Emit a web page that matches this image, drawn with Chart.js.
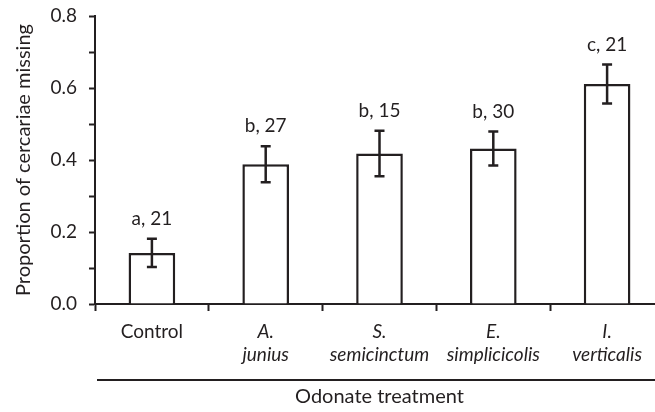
<!DOCTYPE html>
<html>
<head>
<meta charset="utf-8">
<script src="https://cdn.jsdelivr.net/npm/chart.js@4"></script>
<style>
  html, body { margin: 0; padding: 0; background: #fff; overflow: hidden; }
  #wrap { width: 655px; height: 412px; overflow: hidden; }
  #wrap canvas { display: block; }
</style>
</head>
<body>
<div id="wrap"><canvas id="bars" width="664" height="412"></canvas></div>
<script>
var treatments = [['Control'], ['A.', 'junius'], ['S.', 'semicinctum'], ['E.', 'simplicicolis'], ['I.', 'verticalis']];
var means = [0.142, 0.388, 0.418, 0.432, 0.611];
var stdErr = [0.039, 0.050, 0.063, 0.047, 0.054];
var letters = ['a', 'b', 'b', 'b', 'c'];
var sampleSizes = [21, 27, 15, 30, 21];
var yTicks = [0.0, 0.2, 0.4, 0.6, 0.8];

const INK = '#231f20';
const FONT = 'Lato';
const FSIZE = 19;

// error bars, letters + n above them, and the line over the axis title
const errorBars = {
    id: 'errorBars',
    afterDatasetsDraw(chart) {
        const ctx = chart.ctx;
        const y = chart.scales.y;
        const meta = chart.getDatasetMeta(0);
        ctx.save();
        ctx.strokeStyle = INK;
        ctx.fillStyle = INK;
        ctx.lineWidth = 2.5;
        ctx.font = FSIZE + 'px ' + FONT;
        ctx.textAlign = 'center';
        ctx.textBaseline = 'middle';
        meta.data.forEach((bar, i) => {
            const cx = bar.x;
            const hi = y.getPixelForValue(means[i] + stdErr[i]);
            const lo = y.getPixelForValue(means[i] - stdErr[i]);
            ctx.beginPath();
            ctx.moveTo(cx, hi); ctx.lineTo(cx, lo);
            ctx.moveTo(cx - 5, hi); ctx.lineTo(cx + 5, hi);
            ctx.moveTo(cx - 5, lo); ctx.lineTo(cx + 5, lo);
            ctx.stroke();
            ctx.fillText(letters[i] + ', ' + sampleSizes[i], cx, hi - 20);
        });
        const x = chart.scales.x;
        const lineY = chart.chartArea.bottom + 76;
        ctx.lineWidth = 2;
        ctx.beginPath();
        ctx.moveTo(x.left + 2, lineY);
        ctx.lineTo(chart.width, lineY);
        ctx.stroke();
        ctx.restore();
    }
};

new Chart(document.getElementById('bars'), {
    type: 'bar',
    data: {
        labels: treatments,
        datasets: [{
            data: means,
            backgroundColor: '#ffffff',
            borderColor: INK,
            borderWidth: 2.5,
            borderSkipped: 'start',
            categoryPercentage: 1,
            barPercentage: 0.41
        }]
    },
    plugins: [errorBars],
    options: {
        responsive: false,
        animation: false,
        events: [],
        layout: { padding: { top: 16, right: 0, left: 0, bottom: 0 } },
        plugins: {
            legend: { display: false },
            tooltip: { enabled: false }
        },
        scales: {
            x: {
                afterFit: function (scale) { scale.height = 108; },
                grid: {
                    offset: true,
                    drawOnChartArea: false,
                    drawTicks: true,
                    tickLength: 7,
                    tickWidth: 2,
                    tickColor: INK
                },
                border: { color: INK, width: 2 },
                ticks: {
                    color: INK,
                    padding: 9,
                    maxRotation: 0,
                    autoSkip: false,
                    font: function (context) {
                        return {
                            family: FONT,
                            size: FSIZE,
                            lineHeight: 1.22,
                            style: context.index === 0 ? 'normal' : 'italic'
                        };
                    }
                },
                title: {
                    display: true,
                    text: 'Odonate treatment',
                    color: INK,
                    font: { family: FONT, size: 20 },
                    padding: { top: 0, bottom: 3 }
                }
            },
            y: {
                min: 0,
                max: 0.8,
                afterFit: function (scale) {
                    scale.width = 95;
                    scale.paddingTop = 4;
                    scale.paddingBottom = 4;
                },
                grid: {
                    drawOnChartArea: false,
                    drawTicks: true,
                    tickLength: 6,
                    tickWidth: 2,
                    tickColor: INK
                },
                border: { color: INK, width: 2 },
                ticks: {
                    stepSize: 0.1,
                    color: INK,
                    padding: 12,
                    font: { family: FONT, size: FSIZE },
                    callback: function (value) {
                        const hit = yTicks.find(t => Math.abs(t - value) < 1e-6);
                        return hit === undefined ? '' : hit.toFixed(1);
                    }
                },
                title: {
                    display: true,
                    text: 'Proportion of cercariae missing',
                    color: INK,
                    font: { family: FONT, size: 20 },
                    padding: { top: 12, bottom: 0 }
                }
            }
        }
    }
});
</script>
</body>
</html>
